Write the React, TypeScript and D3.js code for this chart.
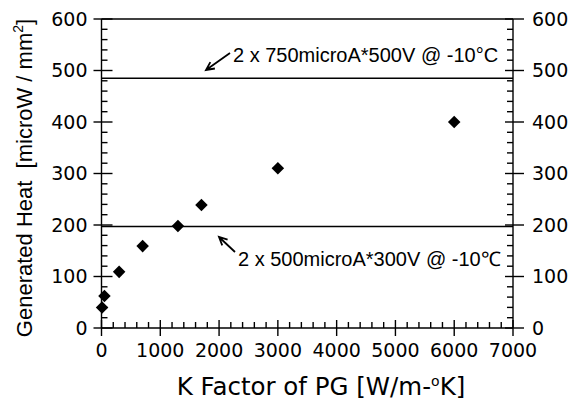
import React from "react";
import * as d3 from "d3";

const kFactor = [10, 50, 300, 700, 1300, 1700, 3000, 6000];
const heat = [40, 62, 109, 159, 198, 239, 310, 400];
const limitValues = [485, 197];
const limitLabels = ["2 x 750microA*500V @ -10°C", "2 x 500microA*300V @ -10℃"];
const xTicks = [0, 1000, 2000, 3000, 4000, 5000, 6000, 7000];
const yTicks = [0, 100, 200, 300, 400, 500, 600];

const W = 573, H = 401;
const L = 101.5, R = 513, T = 19, B = 328;

export default function App() {
  const x = d3.scaleLinear().domain([0, 7000]).range([L, R]);
  const y = d3.scaleLinear().domain([0, 600]).range([B, T]);
  const xMinor = d3.range(0, 7001, 200).filter((v) => v % 1000 !== 0);
  const yMinor = d3.range(0, 601, 20).filter((v) => v % 100 !== 0);
  const digitFont = "DejaVu Sans";
  const sw = 1.4;
  const diamond = d3.symbol().type(d3.symbolDiamond2).size(100)();
  const arrow = (x1: number, y1: number, x2: number, y2: number) => {
    const a = Math.atan2(y2 - y1, x2 - x1);
    const len = 9, spread = 0.45;
    const p1 = [x2 - len * Math.cos(a - spread), y2 - len * Math.sin(a - spread)];
    const p2 = [x2 - len * Math.cos(a + spread), y2 - len * Math.sin(a + spread)];
    return `M${x1},${y1}L${x2},${y2}M${p1[0]},${p1[1]}L${x2},${y2}L${p2[0]},${p2[1]}`;
  };
  return (
    <svg width={W} height={H} style={{ position: "absolute", left: 0, top: 0, background: "#fff" }}>
      <g stroke="#000" strokeWidth={sw} fill="none">
        <line x1={L} x2={R} y1={y(600)} y2={y(600)} />
        <line x1={L} x2={R} y1={y(0)} y2={y(0)} />
        <line x1={L} x2={L} y1={y(0)} y2={y(600)} />
        <line x1={R} x2={R} y1={y(0)} y2={y(600)} />
        {limitValues.map((v, i) => (
          <line key={i} x1={L} x2={R} y1={y(v)} y2={y(v)} />
        ))}
        {yTicks.map((v) => (
          <g key={"yt" + v}>
            <line x1={L - 8} x2={L + 11} y1={y(v)} y2={y(v)} />
            <line x1={R - 8} x2={R + 11} y1={y(v)} y2={y(v)} />
          </g>
        ))}
        {yMinor.map((v) => (
          <g key={"ym" + v}>
            <line x1={L} x2={L + 6} y1={y(v)} y2={y(v)} />
            <line x1={R - 6} x2={R} y1={y(v)} y2={y(v)} />
          </g>
        ))}
        {xTicks.map((v) => (
          <line key={"xt" + v} x1={x(v)} x2={x(v)} y1={y(0) - 8} y2={y(0) + 8} />
        ))}
        {xMinor.map((v) => (
          <line key={"xm" + v} x1={x(v)} x2={x(v)} y1={y(0) - 6} y2={y(0)} />
        ))}
      </g>
      <g stroke="#000" strokeWidth={1.8} fill="none">
        <path d={arrow(230, 53, 206, 70)} />
        <path d={arrow(235, 252, 219, 237)} />
      </g>
      {kFactor.map((k, i) => (
        <path key={i} d={diamond} transform={`translate(${x(k)},${y(heat[i])})`} fill="#000" />
      ))}
      <g fontFamily={digitFont} fontSize={19} fill="#000">
        {yTicks.map((v) => (
          <g key={"yl" + v}>
            <text x={L - 14} y={y(v)} dy="0.36em" textAnchor="end">{v}</text>
            <text x={R + 19} y={y(v)} dy="0.36em" textAnchor="start">{v}</text>
          </g>
        ))}
        {xTicks.map((v) => (
          <text key={"xl" + v} x={x(v)} y={357} textAnchor="middle">{v}</text>
        ))}
      </g>
      <g fontFamily="Liberation Sans" fontSize={20} fill="#000">
        <text x={233} y={62}>{limitLabels[0]}</text>
        <text x={238} y={266}>{limitLabels[1]}</text>
      </g>
      <text x={321} y={395} textAnchor="middle" fontFamily={digitFont} fontSize={24.5} fill="#000">
        K Factor of PG [W/m-<tspan fontSize={14} dy={-9}>o</tspan><tspan dy={9}>K]</tspan>
      </text>
      <text transform="translate(32,178) rotate(-90)" textAnchor="middle" fontFamily="Liberation Sans" fontSize={22} fill="#000">
        {"Generated Heat\u00a0\u00a0[microW / mm"}<tspan fontSize={14} dy={-9}>2</tspan><tspan dy={9}>]</tspan>
      </text>
    </svg>
  );
}
